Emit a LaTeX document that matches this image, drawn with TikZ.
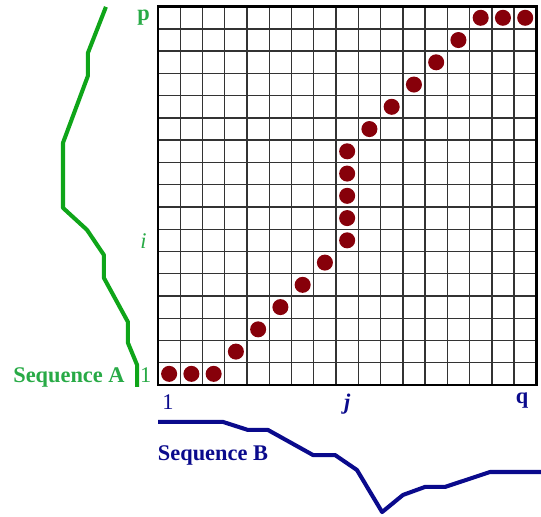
\documentclass[tikz,border=0pt]{standalone}
\usepackage{fontspec}
\setmainfont{Liberation Serif}
\definecolor{seqAcol}{RGB}{15,165,25}
\definecolor{seqAtext}{RGB}{40,170,70}
\definecolor{seqBcol}{RGB}{10,10,140}
\definecolor{matchred}{RGB}{135,0,10}
\tikzset{
  labA/.style={text=seqAtext, font=\fontsize{14.3}{17}\selectfont\bfseries},
  labB/.style={text=seqBcol, font=\fontsize{14.3}{17}\selectfont\bfseries},
  seqline/.style={line width=2.6pt, line join=round},
}
\begin{document}
\begin{tikzpicture}[x=0.5cm, y=0.5cm]
\useasboundingbox (-7.10,-5.93) rectangle (17.21,17.30);
\draw[black!80, line width=0.9pt, step=0.5cm] (0,0) grid (17,17);
\draw[black, line width=1.6pt] (0,0) rectangle (17,17);
\foreach \c/\r in {1/1,2/1,3/1,4/2,5/3,6/4,7/5,8/6,9/7,9/8,9/9,9/10,9/11,10/12,11/13,12/14,13/15,14/16,15/17,16/17,17/17}
  \fill[matchred] (\c-0.5,\r-0.5) circle (0.36);
\draw[seqline, seqAcol] (-2.34,16.99) -- (-3.15,14.92) -- (-3.15,13.89) -- (-4.27,10.88) -- (-4.27,7.96) -- (-3.19,6.97) -- (-2.43,5.84) -- (-2.43,4.81) -- (-1.35,2.83) -- (-1.35,1.89) -- (-0.94,0.90) -- (-0.94,-0.09);
\draw[seqline, seqBcol] (0,-1.66) -- (2.92,-1.66) -- (4.04,-2.02) -- (4.94,-2.02) -- (6.97,-3.15) -- (7.96,-3.15) -- (8.94,-3.82) -- (10.07,-5.71) -- (11.01,-4.94) -- (12.0,-4.58) -- (12.9,-4.58) -- (14.92,-3.91) -- (17.21,-3.91);
\node[labA] (pA) at (-0.65,16.5) {p};
\node[labA, font=\fontsize{14.3}{17}\selectfont\itshape] (iA) at (-0.65,6.45) {i};
\node[labA, font=\fontsize{14.3}{17}\selectfont] (oneA) at (-0.55,0.45) {1};
\node[labA] (nameA) at (-4.0,0.36) {Sequence A};
\node[labB, font=\fontsize{14.3}{17}\selectfont] (oneB) at (0.45,-0.75) {1};
\node[labB, font=\fontsize{14.3}{17}\selectfont\bfseries\itshape] (jB) at (8.5,-0.85) {j};
\node[labB] (qB) at (16.36,-0.7) {q};
\node[labB] (nameB) at (2.47,-3.15) {Sequence B};
\end{tikzpicture}
\end{document}
